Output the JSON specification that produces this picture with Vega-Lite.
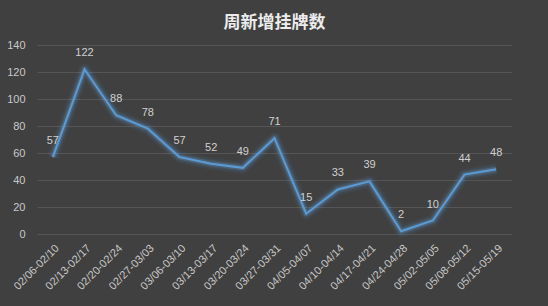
{
  "$schema": "https://vega.github.io/schema/vega-lite/v6.json",
  "autosize": "none",
  "width": 475,
  "height": 189,
  "padding": {"left": 37, "top": 45, "right": 36, "bottom": 72},
  "background": "#404040",
  "config": {
    "view": {"stroke": null},
    "font": "Noto Sans CJK SC"
  },
  "title": {
    "text": "周新增挂牌数",
    "fontSize": 17,
    "fontWeight": "bold",
    "color": "#ececec",
    "offset": 7,
    "anchor": "middle",
    "font": "Noto Sans CJK SC"
  },
  "data": {
    "values": [
      {"week": "02/06-02/10", "value": 57},
      {"week": "02/13-02/17", "value": 122},
      {"week": "02/20-02/24", "value": 88},
      {"week": "02/27-03/03", "value": 78},
      {"week": "03/06-03/10", "value": 57},
      {"week": "03/13-03/17", "value": 52},
      {"week": "03/20-03/24", "value": 49},
      {"week": "03/27-03/31", "value": 71},
      {"week": "04/05-04/07", "value": 15},
      {"week": "04/10-04/14", "value": 33},
      {"week": "04/17-04/21", "value": 39},
      {"week": "04/24-04/28", "value": 2},
      {"week": "05/02-05/05", "value": 10},
      {"week": "05/08-05/12", "value": 44},
      {"week": "05/15-05/19", "value": 48}
    ]
  },
  "encoding": {
    "x": {
      "field": "week",
      "type": "ordinal",
      "sort": null,
      "scale": {"type": "point", "padding": 0.5},
      "axis": {
        "title": null,
        "labelAngle": -45,
        "labelColor": "#c8c8c8",
        "labelFontSize": 11,
        "labelFont": "Liberation Sans",
        "domain": false,
        "ticks": false,
        "labelPadding": 8,
        "grid": false
      }
    },
    "y": {
      "field": "value",
      "type": "quantitative",
      "scale": {"domain": [0, 140], "nice": false},
      "axis": {
        "title": null,
        "values": [0, 20, 40, 60, 80, 100, 120, 140],
        "labelColor": "#c8c8c8",
        "labelFontSize": 11,
        "labelFont": "Liberation Sans",
        "domain": false,
        "ticks": false,
        "labelPadding": 12,
        "gridColor": "#555555",
        "gridWidth": 1
      }
    }
  },
  "layer": [
    {"mark": {"type": "line", "color": "#5b9bd5", "strokeWidth": 12, "opacity": 0.07, "strokeJoin": "round"}},
    {"mark": {"type": "line", "color": "#5b9bd5", "strokeWidth": 8, "opacity": 0.12, "strokeJoin": "round"}},
    {"mark": {"type": "line", "color": "#6aa8e0", "strokeWidth": 5, "opacity": 0.22, "strokeJoin": "round"}},
    {"mark": {"type": "line", "color": "#5b9bd5", "strokeWidth": 2}},
    {
      "mark": {"type": "text", "dy": -16, "fontSize": 11, "color": "#d0d0d0", "font": "Liberation Sans"},
      "encoding": {"text": {"field": "value", "type": "quantitative"}}
    }
  ]
}
